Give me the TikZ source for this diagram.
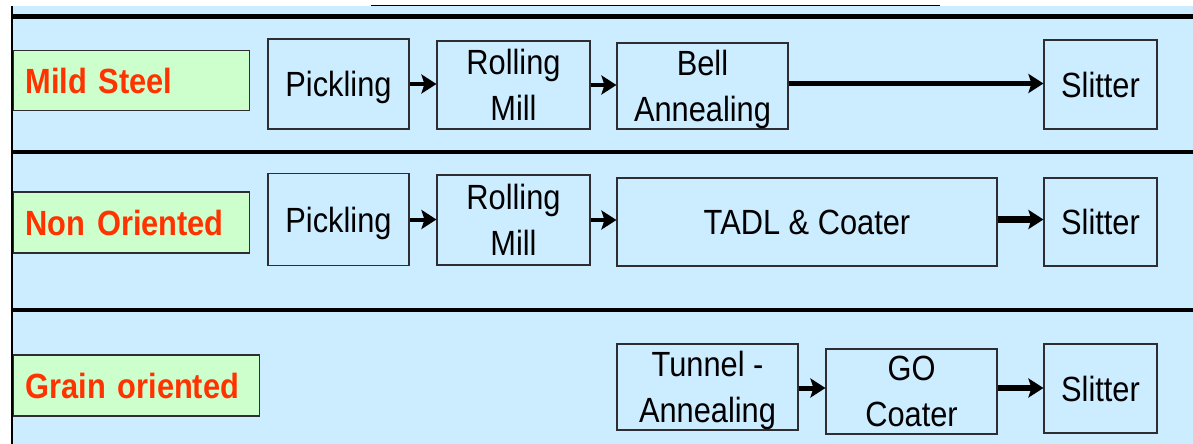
\documentclass[tikz,border=0pt]{standalone}
\usepackage{fontspec}
\setmainfont{Liberation Sans}[FakeStretch=0.88]
\usetikzlibrary{arrows.meta,calc}
\definecolor{bgblue}{RGB}{204,236,255}
\definecolor{lblgreen}{RGB}{204,255,204}
\definecolor{lblred}{RGB}{255,51,0}
\definecolor{edge}{RGB}{45,45,50}
\begin{document}
\begin{tikzpicture}[x=1pt,y=-1pt,
  box/.style={draw=edge,line width=1.1pt,inner sep=0pt,align=center,
    text depth=0pt,font=\fontsize{35}{46}\selectfont},
  lbl/.style={draw=edge,line width=1.1pt,fill=lblgreen,inner ysep=0pt,
    inner xsep=12.5pt,align=left,
    text=lblred,font=\fontsize{35}{42}\selectfont\bfseries,anchor=west},
  arr/.style={line width=#1,-{Stealth[length=15pt,width=19pt,inset=3pt]}},
  arr/.default=4pt,
  sep/.style={line width=4.5pt,black}]
\useasboundingbox (0,0) rectangle (1193,444);
\fill[white] (0,0) rectangle (1193,444);
\fill[bgblue] (11,6) rectangle (1193,444);
% top thin line
\draw[line width=1.6pt] (371,5.5) -- (940,5.5);
% separators
\draw[sep,line width=5pt] (11,16.5) -- (1193,16.5);
\draw[sep] (11,152) -- (1193,152);
\draw[sep] (11,310) -- (1193,310);
% left border
\draw[line width=2pt] (11.5,6) -- (11.5,444);

% row 1
\node[lbl,minimum width=236pt,minimum height=60pt,text width=211pt] (ms) at (12.5,80.5) {Mild Steel};
\node[box,minimum width=141pt,minimum height=90pt] (p1) at (338.5,84) {Pickling};
\node[box,minimum width=153pt,minimum height=88pt] (r1) at (513.5,85) {Rolling\\Mill};
\node[box,minimum width=171pt,minimum height=86pt] (b1) at (702.5,86) {Bell\\Annealing};
\node[box,minimum width=113pt,minimum height=89pt] (s1) at (1100.5,84.5) {Slitter};
\draw[arr] (p1.east) -- (p1.east -| r1.west);
\draw[arr] (r1.east) -- (r1.east -| b1.west);
\draw[arr=5.5pt] (b1.east |- 0,83.5) -- (s1.west |- 0,83.5);

% row 2
\node[lbl,minimum width=236pt,minimum height=61pt,text width=211pt] (no) at (12.5,222.5) {Non Oriented};
\node[box,minimum width=141pt,minimum height=92pt] (p2) at (338.5,219.5) {Pickling};
\node[box,minimum width=153pt,minimum height=90pt] (r2) at (513.5,220) {Rolling\\Mill};
\node[box,minimum width=380pt,minimum height=88pt] (t2) at (807,222) {TADL \& Coater};
\node[box,minimum width=113pt,minimum height=88pt] (s2) at (1100.5,222) {Slitter};
\draw[arr] (p2.east) -- (p2.east -| r2.west);
\draw[arr] (r2.east) -- (r2.east -| t2.west);
\draw[arr=6.5pt] (t2.east |- 0,219.5) -- (s2.west |- 0,219.5);

% row 3
\node[lbl,minimum width=246pt,minimum height=61pt,text width=221pt] (go) at (12.5,385.5) {Grain oriented};
\node[box,minimum width=181pt,minimum height=86pt] (ta3) at (707.5,387) {Tunnel -\\Annealing};
\node[box,minimum width=171pt,minimum height=85pt] (gc3) at (911.5,391.5) {GO\\Coater};
\node[box,minimum width=113pt,minimum height=89pt] (s3) at (1100.5,388.5) {Slitter};
\draw[arr=5pt] (ta3.east |- 0,388) -- (gc3.west |- 0,388);
\draw[arr=6.5pt] (gc3.east |- 0,388) -- (s3.west |- 0,388);
\end{tikzpicture}
\end{document}
